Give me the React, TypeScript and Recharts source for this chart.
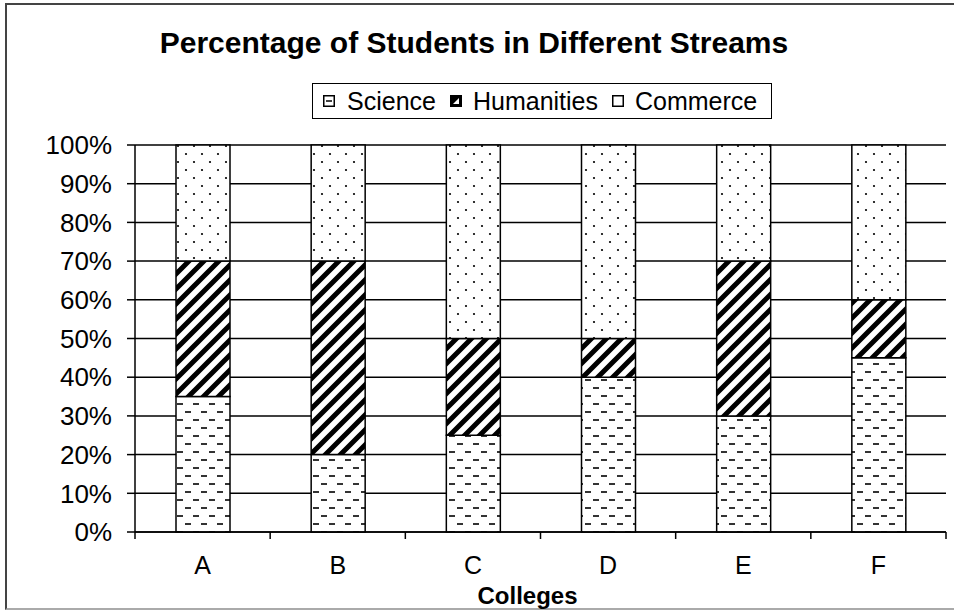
// Stacked percentage bar chart with hatch patterns
import { BarChart, Bar, XAxis, YAxis, CartesianGrid } from "recharts";

const colleges = ["A", "B", "C", "D", "E", "F"];
const science = [35, 20, 25, 40, 30, 45];
const humanities = [35, 50, 25, 10, 40, 15];
const commerce = [30, 30, 50, 50, 30, 40];
const yTicks = [0, 10, 20, 30, 40, 50, 60, 70, 80, 90, 100];

const data = colleges.map((c, i) => ({
  college: c,
  Science: science[i],
  Humanities: humanities[i],
  Commerce: commerce[i],
}));

const W = 954;
const H = 612;
const PLOT_LEFT = 135;
const RIGHT = 8;
const BAND = (W - PLOT_LEFT - RIGHT) / colleges.length;
const FONT = "'Liberation Sans', Arial, sans-serif";

// x tick: marks sit between categories, label in the middle
const XTick = (props: any) => {
  const { x, y, payload, index } = props;
  return (
    <g>
      <line x1={x - BAND / 2} x2={x - BAND / 2} y1={y} y2={y + 7} stroke="#000" strokeWidth={1.5} />
      {index === colleges.length - 1 && (
        <line x1={x + BAND / 2} x2={x + BAND / 2} y1={y} y2={y + 7} stroke="#000" strokeWidth={1.5} />
      )}
      <text x={x} y={y + 42} textAnchor="middle" fontSize={25} fontFamily={FONT} fill="#000">
        {payload.value}
      </text>
    </g>
  );
};

// legend drawn as a plain html box
const LegendBox = () => (
  <div
    style={{
      position: "absolute",
      left: 312,
      top: 83,
      border: "1.5px solid #000",
      height: 36,
      width: 460,
      boxSizing: "border-box",
      display: "flex",
      alignItems: "center",
      paddingLeft: 10,
      fontFamily: FONT,
      fontSize: 25,
      background: "#fff",
    }}
  >
    <svg width={12} height={12} style={{ marginRight: 12 }}>
      <rect x={0.75} y={0.75} width={10.5} height={10.5} fill="#fff" stroke="#000" strokeWidth={1.5} />
      <line x1={3} x2={9} y1={6} y2={6} stroke="#000" strokeWidth={1.5} />
    </svg>
    <span style={{ marginRight: 14 }}>Science</span>
    <svg width={12} height={12} style={{ marginRight: 11 }}>
      <rect x={0.75} y={0.75} width={10.5} height={10.5} fill="#000" stroke="#000" strokeWidth={1.5} />
      <polygon points="9,3 9,9 3,9" fill="#fff" />
    </svg>
    <span style={{ marginRight: 14 }}>Humanities</span>
    <svg width={12} height={12} style={{ marginRight: 11 }}>
      <rect x={0.75} y={0.75} width={10.5} height={10.5} fill="#fff" stroke="#000" strokeWidth={1.5} />
    </svg>
    <span>Commerce</span>
  </div>
);

export default function App() {
  return (
    <div style={{ position: "relative", width: W, height: H, background: "#fff", fontFamily: FONT }}>
      <style>{"body{margin:0}"}</style>
      <div
        style={{
          position: "absolute",
          left: 5,
          top: 3,
          width: W,
          height: 607,
          borderLeft: "2px solid #444",
          borderTop: "2px solid #444",
          borderBottom: "2px solid #aaa",
          boxSizing: "border-box",
        }}
      />
      <BarChart
        width={W}
        height={H}
        data={data}
        margin={{ top: 145, right: RIGHT, bottom: 8, left: 35 }}
        style={{ position: "absolute", left: 0, top: 0 }}
      >
        <defs>
          <pattern id="sci" width={16} height={16} patternUnits="userSpaceOnUse">
            <rect width={16} height={16} fill="#fff" />
            <line x1={1} x2={7} y1={4} y2={4} stroke="#000" strokeWidth={1.6} />
            <line x1={9} x2={15} y1={12} y2={12} stroke="#000" strokeWidth={1.6} />
          </pattern>
          <pattern id="hum" width={15} height={15} patternUnits="userSpaceOnUse">
            <rect width={15} height={15} fill="#fff" />
            <path d="M-4,4 L4,-4 M0,15 L15,0 M11,19 L19,11" stroke="#000" strokeWidth={5} />
          </pattern>
          <pattern id="com" width={16} height={16} patternUnits="userSpaceOnUse">
            <rect width={16} height={16} fill="#fff" />
            <circle cx={2} cy={2} r={1.1} fill="#000" />
            <circle cx={10} cy={10} r={1.1} fill="#000" />
          </pattern>
        </defs>
        <CartesianGrid vertical={false} stroke="#000" strokeWidth={1.5} />
        <XAxis
          dataKey="college"
          tick={<XTick />}
          tickLine={false}
          tickSize={0}
          tickMargin={0}
          interval={0}
          height={72}
          axisLine={{ stroke: "#000", strokeWidth: 1.5 }}
          label={{
            value: "Colleges",
            position: "insideBottom",
            offset: 0,
            fontSize: 24,
            fontWeight: "bold",
            fill: "#000",
            dx: -13,
          }}
        />
        <XAxis xAxisId="top" orientation="top" dataKey="college" height={0} tick={false} tickLine={false} axisLine={{ stroke: "#999", strokeWidth: 2 }} />
        <YAxis
          domain={[0, 100]}
          ticks={yTicks}
          interval={0}
          width={100}
          tickFormatter={(v: number) => `${v}%`}
          tickSize={8}
          tickMargin={15}
          tickLine={{ stroke: "#000", strokeWidth: 1.5 }}
          axisLine={{ stroke: "#000", strokeWidth: 1.5 }}
          tick={{ fontSize: 26, fill: "#000", fontFamily: FONT }}
        />
        <YAxis yAxisId="right" orientation="right" width={0} domain={[0, 100]} tick={false} tickLine={false} axisLine={{ stroke: "#999", strokeWidth: 2 }} />
        <Bar dataKey="Science" stackId="s" fill="url(#sci)" stroke="#000" strokeWidth={1.5} barSize={54} isAnimationActive={false} />
        <Bar dataKey="Humanities" stackId="s" fill="url(#hum)" stroke="#000" strokeWidth={1.5} barSize={54} isAnimationActive={false} />
        <Bar dataKey="Commerce" stackId="s" fill="url(#com)" stroke="#000" strokeWidth={1.5} barSize={54} isAnimationActive={false} />
      </BarChart>
      <div
        style={{
          position: "absolute",
          top: 26,
          left: 0,
          width: 948,
          textAlign: "center",
          fontWeight: "bold",
          fontSize: 30,
        }}
      >
        Percentage of Students in Different Streams
      </div>
      <LegendBox />
    </div>
  );
}
